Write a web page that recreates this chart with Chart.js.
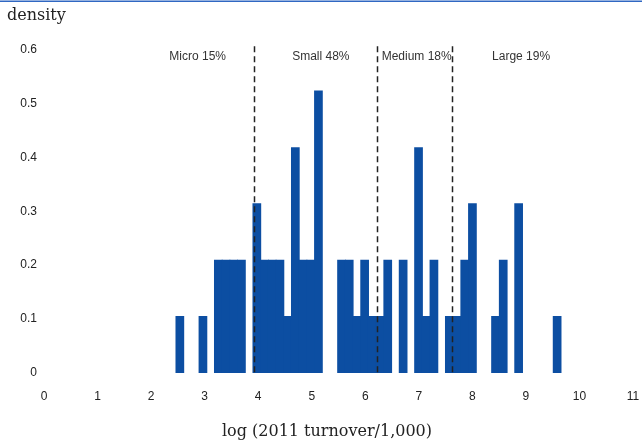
<!DOCTYPE html>
<html>
<head>
<meta charset="utf-8">
<script src="https://cdn.jsdelivr.net/npm/chart.js@4.4.1/dist/chart.umd.min.js"></script>
<style>
  html, body { margin: 0; padding: 0; background: #ffffff; overflow: hidden; }
  canvas { display: block; }
</style>
</head>
<body>
<canvas id="c" width="642" height="446"></canvas>
<script>
// Histogram of firm size: log(2011 turnover / 1,000), density scale
const binStart = 2.465;   // left edge of the first bin
const binWidth = 0.1438;  // width of every bin

// density in each bin, left to right
const density = [
  0.105, 0, 0, 0.105, 0, 0.209, 0.209, 0.209, 0.209, 0,
  0.314, 0.209, 0.209, 0.209, 0.105, 0.418, 0.209, 0.209, 0.523, 0,
  0, 0.209, 0.209, 0.105, 0.209, 0.105, 0.105, 0.209, 0, 0.209,
  0, 0.418, 0.105, 0.209, 0, 0.105, 0.105, 0.209, 0.314, 0,
  0, 0.105, 0.209, 0, 0.314, 0, 0, 0, 0, 0.105
];

const xTicks = [0, 1, 2, 3, 4, 5, 6, 7, 8, 9, 10, 11];
const yTicks = [0, 0.1, 0.2, 0.3, 0.4, 0.5, 0.6];

// size-class cut-offs on the log scale
const cutoffs = [3.93, 6.225, 7.625];
const sizeClasses = ['Micro 15%', 'Small 48%', 'Medium 18%', 'Large 19%'];
const sizeClassX = [2.87, 5.17, 6.96, 8.91];

const points = density.map((d, i) => ({ x: binStart + (i + 0.5) * binWidth, y: d }));

const labelFont = '12px "Liberation Sans", Arial, sans-serif';
const serifFont = '16px "DejaVu Serif", serif';

const annotations = {
  id: 'annotations',
  afterDatasetsDraw(chart) {
    const { ctx, scales: { x, y }, chartArea } = chart;
    ctx.save();
    // dashed cut-off lines
    ctx.strokeStyle = '#222222';
    ctx.lineWidth = 1.5;
    ctx.setLineDash([6, 4]);
    cutoffs.forEach(v => {
      const px = Math.round(x.getPixelForValue(v)) + 0.5;
      ctx.beginPath();
      ctx.moveTo(px, y.getPixelForValue(0.606));
      ctx.lineTo(px, chartArea.bottom);
      ctx.stroke();
    });
    ctx.setLineDash([]);
    // size-class captions
    ctx.fillStyle = '#333333';
    ctx.font = labelFont;
    ctx.textAlign = 'center';
    ctx.textBaseline = 'middle';
    sizeClasses.forEach((t, i) => {
      ctx.fillText(t, x.getPixelForValue(sizeClassX[i]), 57);
    });
    // axis captions
    ctx.fillStyle = '#222222';
    ctx.font = serifFont;
    ctx.textAlign = 'left';
    ctx.fillText('density', 7, 16);
    ctx.textAlign = 'center';
    ctx.fillText('log (2011 turnover/1,000)', 327, 432);
    // rule along the top edge
    ctx.fillStyle = '#2f67c2';
    ctx.fillRect(0, 0.5, 642, 1.5);
    ctx.restore();
  }
};

new Chart(document.getElementById('c'), {
  type: 'bar',
  data: {
    datasets: [{
      data: points,
      backgroundColor: '#0c4ea2',
      borderWidth: 0,
      inflateAmount: c => (c.raw && c.raw.y > 0 ? 0.5 : 0),
      barPercentage: 1,
      categoryPercentage: 1
    }]
  },
  options: {
    responsive: false,
    animation: false,
    devicePixelRatio: 1,
    layout: { padding: { top: 49.5, right: 9, bottom: 0, left: 0 } },
    plugins: { legend: { display: false }, tooltip: { enabled: false } },
    scales: {
      x: {
        type: 'linear',
        min: 0,
        max: 11,
        offset: false,
        grid: { display: false, drawTicks: false, offset: false },
        border: { display: false },
        afterBuildTicks: s => { s.ticks = xTicks.map(v => ({ value: v })); },
        afterFit: s => { s.height = 73; s.paddingLeft = 0; s.paddingRight = 0; },
        ticks: {
          padding: 16,
          maxRotation: 0,
          autoSkip: false,
          color: '#222222',
          font: { family: '"Liberation Sans", Arial, sans-serif', size: 12 }
        }
      },
      y: {
        min: 0,
        max: 0.6,
        grid: { display: false, drawTicks: false },
        border: { display: false },
        afterBuildTicks: s => { s.ticks = yTicks.map(v => ({ value: v })); },
        afterFit: s => { s.width = 44; },
        ticks: {
          padding: 7,
          color: '#222222',
          callback: v => String(v),
          font: { family: '"Liberation Sans", Arial, sans-serif', size: 12 }
        }
      }
    }
  },
  plugins: [annotations]
});
</script>
</body>
</html>
